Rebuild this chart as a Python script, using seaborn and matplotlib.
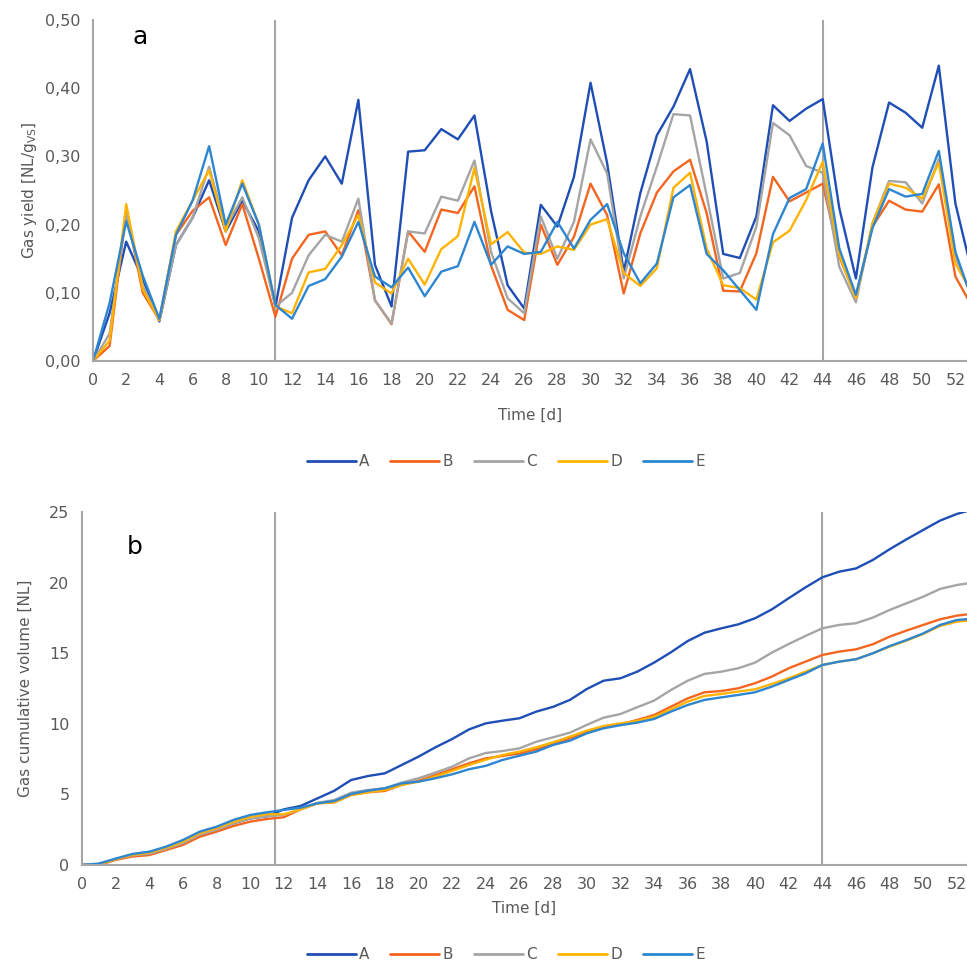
import numpy as np
import pandas as pd
import matplotlib
matplotlib.use("Agg")
import matplotlib.pyplot as plt
import seaborn as sns

# days 0..53
days = list(range(54))
series_names = ["A", "B", "C", "D", "E"]

# panel a: gas yield [NL/gVS]
yield_A = [0.00, 0.07, 0.175, 0.12, 0.058, 0.17, 0.21, 0.265, 0.19, 0.235, 0.19, 0.08,
           0.21, 0.265, 0.30, 0.26, 0.383, 0.141, 0.08, 0.307, 0.309, 0.34, 0.325, 0.36,
           0.22, 0.111, 0.077, 0.229, 0.197, 0.27, 0.408, 0.29, 0.131, 0.246, 0.331, 0.373,
           0.428, 0.322, 0.157, 0.151, 0.212, 0.375, 0.352, 0.37, 0.384, 0.224, 0.121, 0.284,
           0.379, 0.364, 0.342, 0.433, 0.231, 0.13]
yield_B = [0.00, 0.022, 0.22, 0.10, 0.06, 0.185, 0.22, 0.24, 0.17, 0.23, 0.15, 0.065,
           0.15, 0.185, 0.19, 0.155, 0.221, 0.089, 0.054, 0.19, 0.16, 0.222, 0.217, 0.256,
           0.14, 0.075, 0.06, 0.20, 0.141, 0.182, 0.26, 0.214, 0.099, 0.187, 0.247, 0.278,
           0.295, 0.217, 0.103, 0.102, 0.158, 0.27, 0.234, 0.247, 0.26, 0.153, 0.094, 0.197,
           0.235, 0.222, 0.219, 0.259, 0.124, 0.08]
yield_C = [0.00, 0.04, 0.215, 0.11, 0.06, 0.17, 0.21, 0.285, 0.195, 0.24, 0.18, 0.08,
           0.10, 0.155, 0.185, 0.175, 0.238, 0.089, 0.055, 0.19, 0.187, 0.241, 0.235, 0.294,
           0.16, 0.092, 0.07, 0.212, 0.15, 0.204, 0.325, 0.275, 0.121, 0.212, 0.285, 0.362,
           0.36, 0.243, 0.121, 0.129, 0.197, 0.349, 0.331, 0.286, 0.276, 0.138, 0.086, 0.202,
           0.264, 0.262, 0.231, 0.296, 0.153, 0.095]
yield_D = [0.00, 0.03, 0.23, 0.105, 0.06, 0.19, 0.235, 0.28, 0.19, 0.265, 0.20, 0.08,
           0.07, 0.13, 0.135, 0.17, 0.214, 0.115, 0.099, 0.15, 0.112, 0.164, 0.183, 0.283,
           0.171, 0.189, 0.159, 0.157, 0.168, 0.163, 0.20, 0.208, 0.129, 0.11, 0.136, 0.254,
           0.276, 0.165, 0.111, 0.107, 0.09, 0.174, 0.191, 0.236, 0.292, 0.155, 0.092, 0.202,
           0.26, 0.254, 0.238, 0.291, 0.143, 0.10]
yield_E = [0.00, 0.085, 0.205, 0.125, 0.062, 0.185, 0.235, 0.315, 0.20, 0.26, 0.20, 0.082,
           0.062, 0.11, 0.12, 0.153, 0.204, 0.124, 0.108, 0.137, 0.095, 0.131, 0.139, 0.204,
           0.141, 0.168, 0.157, 0.16, 0.204, 0.165, 0.207, 0.23, 0.158, 0.114, 0.143, 0.24,
           0.258, 0.157, 0.133, 0.104, 0.075, 0.186, 0.239, 0.252, 0.319, 0.165, 0.097, 0.195,
           0.252, 0.241, 0.245, 0.308, 0.16, 0.09]

# panel b: cumulative gas volume [NL]
cum_A = [0.0, 0.05, 0.42, 0.70, 0.85, 1.15, 1.55, 2.15, 2.50, 2.95, 3.30, 3.45,
         3.94, 4.18, 4.72, 5.26, 6.02, 6.30, 6.49, 7.08, 7.67, 8.33, 8.92, 9.60,
         10.03, 10.22, 10.39, 10.86, 11.20, 11.69, 12.46, 13.05, 13.22, 13.69, 14.33, 15.06,
         15.86, 16.45, 16.76, 17.04, 17.47, 18.10, 18.89, 19.66, 20.37, 20.77, 21.00, 21.60,
         22.36, 23.06, 23.73, 24.39, 24.86, 25.20]
cum_B = [0.0, 0.0, 0.35, 0.60, 0.70, 1.06, 1.42, 2.00, 2.36, 2.76, 3.07, 3.26,
         3.38, 3.94, 4.37, 4.44, 4.96, 5.15, 5.24, 5.67, 5.97, 6.37, 6.78, 7.20,
         7.55, 7.72, 7.90, 8.19, 8.55, 8.97, 9.40, 9.80, 9.96, 10.27, 10.62, 11.21,
         11.80, 12.23, 12.32, 12.51, 12.87, 13.34, 13.93, 14.40, 14.87, 15.11, 15.27, 15.63,
         16.17, 16.60, 17.00, 17.40, 17.66, 17.80]
cum_C = [0.0, 0.05, 0.40, 0.68, 0.80, 1.15, 1.55, 2.15, 2.50, 2.95, 3.30, 3.45,
         3.55, 3.94, 4.40, 4.60, 5.12, 5.31, 5.43, 5.83, 6.14, 6.54, 6.96, 7.55,
         7.93, 8.07, 8.26, 8.73, 9.04, 9.37, 9.92, 10.43, 10.69, 11.17, 11.64, 12.39,
         13.05, 13.53, 13.69, 13.93, 14.33, 15.04, 15.65, 16.22, 16.76, 17.00, 17.12, 17.52,
         18.06, 18.53, 19.00, 19.55, 19.83, 20.00]
cum_D = [0.0, 0.05, 0.40, 0.72, 0.88, 1.22, 1.65, 2.25, 2.60, 3.05, 3.40, 3.60,
         3.59, 3.94, 4.37, 4.44, 4.96, 5.15, 5.31, 5.67, 5.90, 6.26, 6.66, 7.08,
         7.46, 7.79, 8.03, 8.33, 8.69, 9.09, 9.51, 9.84, 10.03, 10.20, 10.50, 11.02,
         11.57, 11.97, 12.11, 12.28, 12.44, 12.82, 13.22, 13.69, 14.16, 14.40, 14.57, 14.99,
         15.46, 15.89, 16.36, 16.93, 17.23, 17.35]
cum_E = [0.0, 0.10, 0.45, 0.78, 0.94, 1.30, 1.77, 2.36, 2.71, 3.19, 3.54, 3.73,
         3.90, 4.06, 4.37, 4.53, 5.03, 5.26, 5.43, 5.78, 5.90, 6.14, 6.42, 6.78,
         7.02, 7.44, 7.74, 8.03, 8.50, 8.80, 9.32, 9.68, 9.90, 10.08, 10.34, 10.86,
         11.33, 11.69, 11.87, 12.04, 12.23, 12.63, 13.10, 13.57, 14.16, 14.40, 14.57, 14.99,
         15.50, 15.93, 16.40, 17.00, 17.35, 17.45]

colors = ["#1F4EB4", "#F4661F", "#A5A5A5", "#FFB300", "#2E86D1"]
grid_grey = "#A6A6A6"
text_grey = "#595959"

yield_df = pd.DataFrame({"day": days * 5,
                         "value": yield_A + yield_B + yield_C + yield_D + yield_E,
                         "series": [s for s in series_names for _ in days]})
cum_df = pd.DataFrame({"day": days * 5,
                       "value": cum_A + cum_B + cum_C + cum_D + cum_E,
                       "series": [s for s in series_names for _ in days]})

sns.set_style("white")
plt.rcParams["font.family"] = ["DejaVu Sans"]

fig = plt.figure(figsize=(9.67, 9.66), dpi=100)
ax1 = fig.add_axes([0.0962, 0.6263, 0.9038, 0.353])
ax2 = fig.add_axes([0.0848, 0.1046, 0.9152, 0.3654])

for ax, df, vlines, xmax, xpad in [(ax1, yield_df, [11, 44], 52.7, 14),
                                   (ax2, cum_df, [11.5, 44], 52.6, 6)]:
    sns.lineplot(data=df, x="day", y="value", hue="series", palette=colors,
                 linewidth=1.7, ax=ax, legend=False)
    for v in vlines:
        ax.axvline(v, color=grid_grey, lw=1.5, zorder=0)
    ax.set_xlim(0, xmax)
    ax.set_xticks(range(0, 53, 2))
    for s in ["top", "right"]:
        ax.spines[s].set_visible(False)
    for s in ["left", "bottom"]:
        ax.spines[s].set_color(grid_grey)
        ax.spines[s].set_linewidth(1.5)
    ax.tick_params(length=0, labelsize=11.5, colors=text_grey, pad=9)
    ax.set_xlabel("Time [d]", fontsize=11, color=text_grey, labelpad=xpad)

ax1.set_ylim(0, 0.5)
ax1.set_yticks(np.arange(0, 0.51, 0.1))
ax1.set_yticklabels([f"{t:.2f}".replace(".", ",") for t in np.arange(0, 0.51, 0.1)])
ax1.set_ylabel(r"Gas yield [NL/g$_{\mathregular{VS}}$]", fontsize=11, color=text_grey, labelpad=4)
ax1.text(0.045, 0.93, "a", transform=ax1.transAxes, fontsize=18, color="black")

ax2.set_ylim(0, 25)
ax2.set_yticks(range(0, 26, 5))
ax2.set_ylabel("Gas cumulative volume [NL]", fontsize=11, color=text_grey, labelpad=12)
ax2.text(0.05, 0.88, "b", transform=ax2.transAxes, fontsize=18, color="black")

handles = [plt.Line2D([], [], color=c, lw=2) for c in colors]
for y in [0.522, 0.012]:
    fig.legend(handles, series_names, loc="center", bbox_to_anchor=(0.523, y),
               ncol=5, frameon=False, fontsize=11, handlelength=3.2, handletextpad=0.2,
               columnspacing=1.4, labelcolor=text_grey)

fig.savefig("out.png", dpi=100)
